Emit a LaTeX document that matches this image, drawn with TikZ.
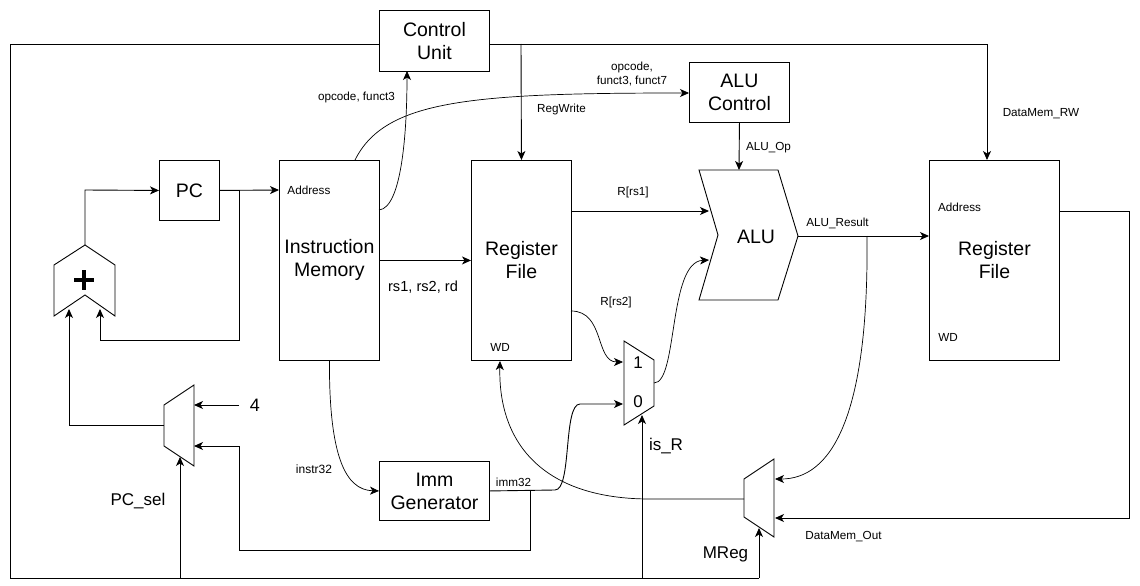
\documentclass[tikz,border=0pt]{standalone}
\usepackage{fontspec}
\setmainfont{Liberation Sans}
\usetikzlibrary{arrows.meta}
\begin{document}
\begin{tikzpicture}[x=1pt,y=-1pt, line width=0.9pt,
  box/.style={draw, anchor=north west, align=center, font=\fontsize{19.5}{23}\selectfont, inner sep=0pt},
  lbl/.style={font=\fontsize{11.7}{13.5}\selectfont, align=center, inner sep=0pt},
  mid/.style={font=\fontsize{17}{20}\selectfont, inner sep=0pt},
  arr/.style={-{Stealth[length=9pt,width=8pt,inset=2.5pt]}},
  thin/.style={line width=0.7pt},
  plusbar/.style={line width=3.8pt}
]
\useasboundingbox (0,0) rectangle (1140,586);

% boxes
\node[box, minimum width=110pt, minimum height=61pt] (cu) at (379,10) {Control\\Unit};
\node[box, minimum width=60pt, minimum height=60pt] (pc) at (159,160) {PC};
\node[box, minimum width=100pt, minimum height=200pt] (im) at (279,160) {Instruction\\Memory};
\node[box, minimum width=110pt, minimum height=59pt] (imm) at (379,461) {Imm\\Generator};
\node[box, minimum width=100pt, minimum height=200pt] (rf) at (471,160) {Register\\File};
\node[box, minimum width=100pt, minimum height=60pt] (aluc) at (689,62) {ALU\\Control};
\node[box, minimum width=130pt, minimum height=200pt] (dm) at (929,160) {Register\\File};

% adder
\draw (85,245) -- (115,265) -- (115,316) -- (85,295) -- (54,316) -- (54,265) -- cycle;
\draw[plusbar] (74,280) -- (94,280);
\draw[plusbar] (84,270) -- (84,290);
\coordinate (addout) at (85,245);
\coordinate (addinL) at (69,309);
\coordinate (addinR) at (100,309);

% PC mux
\draw (164,405) -- (194,385) -- (194,466) -- (164,446) -- cycle;
\coordinate (pcmuxout) at (164,425);
\coordinate (pcmuxa) at (194,405);
\coordinate (pcmuxb) at (194,446);
\coordinate (pcmuxsel) at (180,457);

% ALU src mux
\draw (624,341) -- (654,360) -- (654,406) -- (624,425) -- cycle;
\node[mid] (one) at (638,363) {1};
\node[mid] (zero) at (638,402) {0};
\coordinate (amux1) at (623,362);
\coordinate (amux0) at (623,404);
\coordinate (amuxout) at (654,383);
\coordinate (amuxsel) at (642,415);

% MReg mux
\draw (744,479) -- (774,459) -- (774,537) -- (744,517) -- cycle;
\coordinate (mmuxa) at (775,479);
\coordinate (mmuxb) at (775,518);
\coordinate (mmuxout) at (744,499);
\coordinate (mmuxsel) at (759,528);

% ALU
\draw (699,170) -- (778,170) -- (798,236) -- (778,300) -- (699,300) -- (718,235) -- cycle;
\node[font=\fontsize{19.5}{23}\selectfont, inner sep=0pt] (alu) at (756,237) {ALU};
\coordinate (alua) at (709,211);
\coordinate (alub) at (709,260);
\coordinate (aluop) at (739,170);
\coordinate (aluout) at (798,236);

% other coordinates
\coordinate (cul) at (379,44);
\coordinate (cur) at (489,44);
\coordinate (imaddr) at (279,190);
\coordinate (dmaddr) at (929,236);
\coordinate (dmrw) at (987,160);
\coordinate (rfwd) at (500,361);
\coordinate (imop) at (379,210);
\coordinate (imtop) at (355,160);
\coordinate (cubot) at (407,71);
\coordinate (alucin) at (689,93);
\coordinate (rfa) at (571,211);
\coordinate (rfb) at (571,311);
\coordinate (dmout) at (1059,211);

% control bus
\draw (cul) -- (10,44) -- (10,578) -- (759,578);
\draw[arr] (180,578) -- (pcmuxsel);
\draw[arr] (642,578) -- (amuxsel);
\draw[arr] (759,578) -- (mmuxsel);
\draw[arr] (cur) -- (987,44) -- (dmrw);
\draw[arr] (521,44) -- (rf.north);

% PC loop
\draw[arr] (addout) -- (85,190) -- (pc.west);
\draw[arr] (pc.east) -- (imaddr);
\draw[arr] (239,190) -- (239,340) -- (100,340) -- (addinR);
\draw[arr] (pcmuxout) -- (69,425) -- (addinL);
\node[font=\fontsize{18}{20}\selectfont, inner sep=0pt] (four) at (255,405) {4};
\draw[arr] (239,405) -- (pcmuxa);

% imm
\draw[arr] (imm.east) -- (555,490) .. controls (572,490) and (563,404) .. (580,404) -- (amux0);
\draw[arr] (530,490) -- (530,550) -- (239,550) -- (239,446) -- (pcmuxb);
\draw[arr, thin] (im.south) .. controls (329,455) and (345,490) .. (imm.west);

% opcode curves
\draw[arr, thin] (imop) .. controls (402,208) and (407,130) .. (cubot);
\draw[arr, thin] (imtop) .. controls (385,100) and (470,93) .. (alucin);

% datapath
\draw[arr] (im.east) -- (rf.west);
\draw[arr] (rfa) -- (alua);
\draw[arr, thin] (rfb) .. controls (605,311) and (595,362) .. (amux1);
\draw[arr, thin] (amuxout) .. controls (678,383) and (668,262) .. (alub);
\draw[arr] (aluc.south) -- (aluop);
\draw[arr] (aluout) -- (dmaddr);
\draw[arr, thin] (867,236) .. controls (869,420) and (830,479) .. (mmuxa);
\draw[arr] (dmout) -- (1129,211) -- (1129,518) -- (mmuxb);
\draw[arr, thin] (mmuxout) -- (650,499) .. controls (545,499) and (498,445) .. (rfwd);

% labels
\node[lbl, anchor=west] (imaddrl) at (287,190) {Address};
\node[lbl] (dmaddrl) at (959.5,207) {Address};
\node[lbl] (rfwdl) at (500,347) {WD};
\node[lbl] (dmwdl) at (948,337) {WD};
\node[lbl] (opl) at (356.5,97) {opcode, funct3};
\node[lbl] (op2l) at (632,74) {opcode,\\funct3, funct7};
\node[lbl] (rwl) at (561.5,109) {RegWrite};
\node[lbl] (aluopl) at (768.5,148) {ALU\_Op};
\node[lbl] (rwdl) at (1041,114) {DataMem\_RW};
\node[lbl] (rs1l) at (633,192) {R[rs1]};
\node[lbl] (rs2l) at (616,302) {R[rs2]};
\node[font=\fontsize{14.6}{16}\selectfont, inner sep=0pt] (rsl) at (423,287) {rs1, rs2, rd};
\node[lbl] (resl) at (837.5,223) {ALU\_Result};
\node[font=\fontsize{12}{14}\selectfont, inner sep=0pt] (instl) at (314,469) {instr32};
\node[lbl] (imml) at (513.5,482) {imm32};
\node[mid] (pcsell) at (138,501) {PC\_sel};
\node[mid] (isrl) at (666,446) {is\_R};
\node[mid] (mregl) at (725.5,554) {MReg};
\node[lbl] (dmol) at (843.5,537) {DataMem\_Out};
\end{tikzpicture}
\end{document}
